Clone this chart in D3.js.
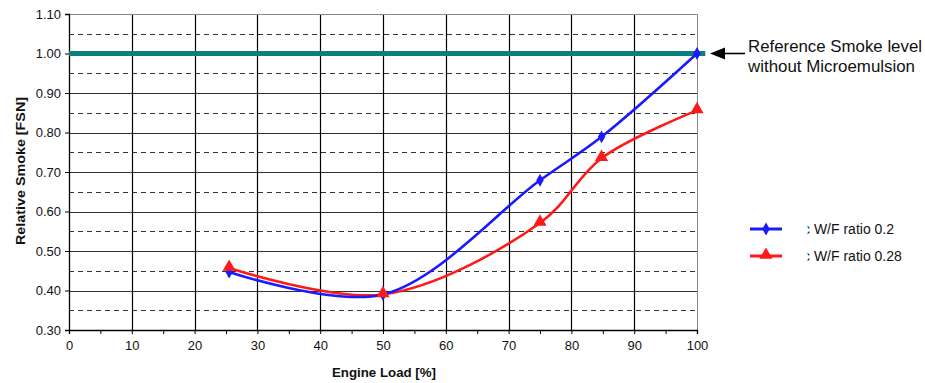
<!DOCTYPE html>
<html>
<head>
<meta charset="utf-8">
<script src="https://cdn.jsdelivr.net/npm/d3@7"></script>
<style>
  html, body { margin: 0; padding: 0; background: #fff; }
  svg { display: block; font-family: "Liberation Sans", Arial, sans-serif; }
</style>
</head>
<body>
<svg id="chart" width="925" height="383"></svg>
<script>
// Engine load (%) at each measurement
const loadW02 = [25.5, 50, 75, 84.8, 100];
const smokeW02 = [0.447, 0.39, 0.679, 0.789, 1.00];
const loadW028 = [25.5, 50, 75, 84.8, 100];
const smokeW028 = [0.457, 0.39, 0.571, 0.735, 0.856];
// Reference level without microemulsion
const refLoad = [0, 101];
const refSmoke = [1.00, 1.00];

const xTicks = [0, 10, 20, 30, 40, 50, 60, 70, 80, 90, 100];
const yTicks = [0.30, 0.40, 0.50, 0.60, 0.70, 0.80, 0.90, 1.00, 1.10];
const yHalfTicks = [0.35, 0.45, 0.55, 0.65, 0.75, 0.85, 0.95, 1.05];
const seriesNames = ["c W/F ratio 0.2", "c W/F ratio 0.28"];

const svg = d3.select("#chart");
const defs = svg.append("defs");
const m = { left: 69, right: 697, top: 14, bottom: 330 };
const x = d3.scaleLinear().domain([0, 100]).range([m.left, m.right]);
const y = d3.scaleLinear().domain([0.30, 1.10]).range([m.bottom, m.top]);

// dashed half-step gridlines
svg.append("g").selectAll("line").data(yHalfTicks).join("line")
  .attr("x1", m.left).attr("x2", m.right)
  .attr("y1", d => Math.round(y(d)) + 0.5).attr("y2", d => Math.round(y(d)) + 0.5)
  .attr("stroke", "#333").attr("stroke-width", 1).attr("stroke-dasharray", "5,4");

// solid gridlines
svg.append("g").selectAll("line").data(yTicks.slice(1, -1)).join("line")
  .attr("x1", m.left).attr("x2", m.right)
  .attr("y1", d => Math.round(y(d)) + 0.5).attr("y2", d => Math.round(y(d)) + 0.5)
  .attr("stroke", "#333").attr("stroke-width", 1);
svg.append("g").selectAll("line").data(xTicks.slice(1, -1)).join("line")
  .attr("y1", m.top).attr("y2", m.bottom)
  .attr("x1", d => Math.round(x(d)) + 0.5).attr("x2", d => Math.round(x(d)) + 0.5)
  .attr("stroke", "#000").attr("stroke-width", 1.2);

// plot frame top/right (grey)
svg.append("path")
  .attr("d", `M${m.left},${m.top + 0.5}H${m.right + 0.5}V${m.bottom}`)
  .attr("fill", "none").attr("stroke", "#888").attr("stroke-width", 1);

// axes
const xAxis = d3.axisBottom(x).tickValues(d3.range(0, 101, 5)).tickSize(4)
  .tickFormat(d => xTicks.includes(d) ? d : "");
const gx = svg.append("g").attr("transform", `translate(0,${m.bottom})`).call(xAxis);
gx.select(".domain").attr("stroke", "#000").attr("stroke-width", 1.3);
gx.selectAll(".tick line").attr("stroke", "#000");
gx.selectAll("text").attr("font-size", 13).attr("fill", "#111").attr("dy", "1.0em");

const yAxis = d3.axisLeft(y).tickValues(yTicks).tickSize(4).tickFormat(d3.format(".2f"));
const gy = svg.append("g").attr("transform", `translate(${m.left},0)`).call(yAxis);
gy.select(".domain").attr("stroke", "#000").attr("stroke-width", 1.3);
gy.selectAll(".tick line").attr("stroke", "#000");
gy.selectAll("text").attr("font-size", 13).attr("fill", "#111").attr("x", -8);

// axis titles
svg.append("text").attr("x", 384).attr("y", 377).attr("text-anchor", "middle")
  .attr("font-size", 12.5).attr("font-weight", "bold").attr("fill", "#111")
  .attr("textLength", 104).attr("lengthAdjust", "spacingAndGlyphs")
  .text("Engine Load [%]");
svg.append("text").attr("transform", "translate(25,171) rotate(-90)")
  .attr("text-anchor", "middle")
  .attr("font-size", 13).attr("font-weight", "bold").attr("fill", "#111")
  .attr("textLength", 148).attr("lengthAdjust", "spacingAndGlyphs")
  .text("Relative Smoke [FSN]");

// reference level
svg.append("line")
  .attr("x1", x(refLoad[0])).attr("x2", x(refLoad[1]) + 2)
  .attr("y1", y(refSmoke[0])).attr("y2", y(refSmoke[1]))
  .attr("stroke", "#0b7f7c").attr("stroke-width", 5);

const line = d3.line().curve(d3.curveCatmullRom.alpha(0.5));

// W/F 0.28 series
const red = "#ff1a1a";
const pts28 = loadW028.map((d, i) => [x(d), y(smokeW028[i])]);
svg.append("path").attr("d", line(pts28)).attr("fill", "none")
  .attr("stroke", red).attr("stroke-width", 2.6);

// W/F 0.2 series
const blue = "#1a1aff";
const pts2 = loadW02.map((d, i) => [x(d), y(smokeW02[i])]);
svg.append("path").attr("d", line(pts2)).attr("fill", "none")
  .attr("stroke", blue).attr("stroke-width", 2.6);

const diamond = d3.symbol().type(d3.symbolDiamond).size(48);
const tri = d3.symbol().type(d3.symbolTriangle).size(75);

svg.append("g").selectAll("path").data(pts2).join("path")
  .attr("d", diamond).attr("transform", d => `translate(${d[0]},${d[1]})`)
  .attr("fill", blue);
svg.append("g").selectAll("path").data(pts28).join("path")
  .attr("d", tri).attr("transform", d => `translate(${d[0]},${d[1] - 1})`)
  .attr("fill", red);

// annotation arrow and note
svg.append("line").attr("x1", 745).attr("x2", 724)
  .attr("y1", y(1.00)).attr("y2", y(1.00))
  .attr("stroke", "#000").attr("stroke-width", 1.6);
svg.append("path")
  .attr("d", `M710,${y(1.00)}L725,${y(1.00) - 6}L725,${y(1.00) + 6}Z`)
  .attr("fill", "#000");
svg.append("text").attr("x", 748).attr("y", 52).attr("font-size", 16.5).attr("fill", "#111")
  .attr("textLength", 174).attr("lengthAdjust", "spacingAndGlyphs")
  .text("Reference Smoke level");
svg.append("text").attr("x", 748).attr("y", 72).attr("font-size", 16.5).attr("fill", "#111")
  .attr("textLength", 167).attr("lengthAdjust", "spacingAndGlyphs")
  .text("without Microemulsion");

// legend (labels cut at the legend box edge)
defs.append("clipPath").attr("id", "legclip")
  .append("rect").attr("x", 807.5).attr("y", 210).attr("width", 117).attr("height", 60);
const leg = svg.append("g");
const legRows = [
  { name: seriesNames[0], color: blue, sym: diamond, yy: 229, dy: 0 },
  { name: seriesNames[1], color: red, sym: tri, yy: 256, dy: -1 }
];
legRows.forEach(r => {
  leg.append("line").attr("x1", 750).attr("x2", 782).attr("y1", r.yy).attr("y2", r.yy)
    .attr("stroke", r.color).attr("stroke-width", 3);
  leg.append("path").attr("d", r.sym).attr("transform", `translate(766,${r.yy + r.dy})`)
    .attr("fill", r.color);
  leg.append("text").attr("x", 803).attr("y", r.yy + 5)
    .attr("font-size", 14).attr("fill", "#111").attr("clip-path", "url(#legclip)")
    .text(r.name);
});
</script>
</body>
</html>
